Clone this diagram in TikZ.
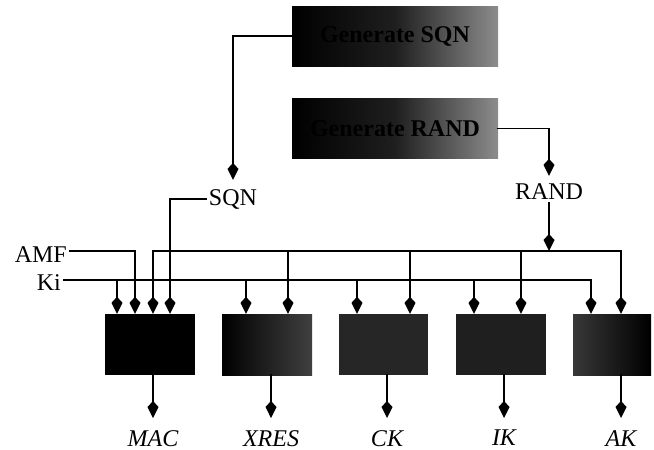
\documentclass[tikz,border=0pt]{standalone}
\usepackage{fontspec}
\setmainfont{Liberation Serif}
\usetikzlibrary{arrows.meta,calc}

\begin{document}
\begin{tikzpicture}[x=1pt, y=-1pt, >={Kite[length=17pt,width=11pt,inset=6pt]},
  every node/.style={font=\fontsize{24}{28}\selectfont, inner sep=3pt},
  sig/.style={->, line width=1.8pt, line cap=rect},
  genbox/.style={minimum width=206pt, minimum height=60pt, left color=black, right color=black!45, middle color=black!88, font=\fontsize{24}{28}\selectfont\bfseries},
  keybox/.style={minimum width=90pt, minimum height=61pt, inner sep=0pt},
  outlab/.style={anchor=north, inner sep=0pt, font=\fontsize{24}{28}\selectfont\itshape}]
\useasboundingbox (0,0) rectangle (654,450);

\node[genbox] (gsqn) at (395,36) {Generate SQN};
\node[genbox] (grand) at (395,128.5) {Generate RAND};

\node[keybox, fill=black] (mac) at (150,344.5) {};
\node[keybox, left color=black, right color=black!75] (xres) at (267,344.5) {};
\node[keybox, minimum width=89pt, fill=black!85] (ck) at (383.5,344.5) {};
\node[keybox, fill=black!88] (ik) at (501,344.5) {};
\node[keybox, minimum width=78pt, left color=black!78, right color=black] (ak) at (612,344.5) {};

\node[anchor=east] (amf) at (70,255) {AMF};
\node[anchor=east] (ki) at (64,283) {Ki};
\node (sqn) at (233,199) {SQN};
\node (rand) at (549,192) {RAND};

\coordinate (kibus) at (0,280);
\coordinate (randbus) at (0,251);
\foreach \b/\k/\r in {mac/-33/3, xres/-21/21, ck/-26.5/26.5, ik/-27/20, ak/-21/9} {
  \coordinate (\b-ki) at ([xshift=\k pt]\b.north);
  \coordinate (\b-rand) at ([xshift=\r pt]\b.north);
}
\coordinate (mac-amf) at ([xshift=-15pt]mac.north);
\coordinate (mac-sqn) at ([xshift=20pt]mac.north);

\draw[sig, shorten >=6pt] (gsqn.west) -| (sqn);
\draw[sig, shorten >=5pt] (grand.east) -| (rand);
\draw[sig] (sqn.west) -| (mac-sqn);
\draw[sig] (rand) -- (rand |- randbus);

\draw[sig] ([yshift=4pt]amf.east) -| (mac-amf);
\draw[sig] ([yshift=3pt]ki.east) -| (ak-ki);
\foreach \b in {mac,xres,ck,ik}
  \draw[sig] (\b-ki |- kibus) -- (\b-ki);
\draw[sig] (mac-rand |- randbus) -| (ak-rand);
\foreach \b in {mac,xres,ck,ik}
  \draw[sig] (\b-rand |- randbus) -- (\b-rand);

\foreach \b/\x/\t in {mac/153/MAC, xres/271/XRES, ck/387/CK, ik/504/IK, ak/621/AK} {
  \node[outlab] (\b-out) at (\x,430) {\t};
  \draw[sig, shorten >=12pt] (\b.south -| \b-out) -- (\b-out);
}
\end{tikzpicture}
\end{document}
